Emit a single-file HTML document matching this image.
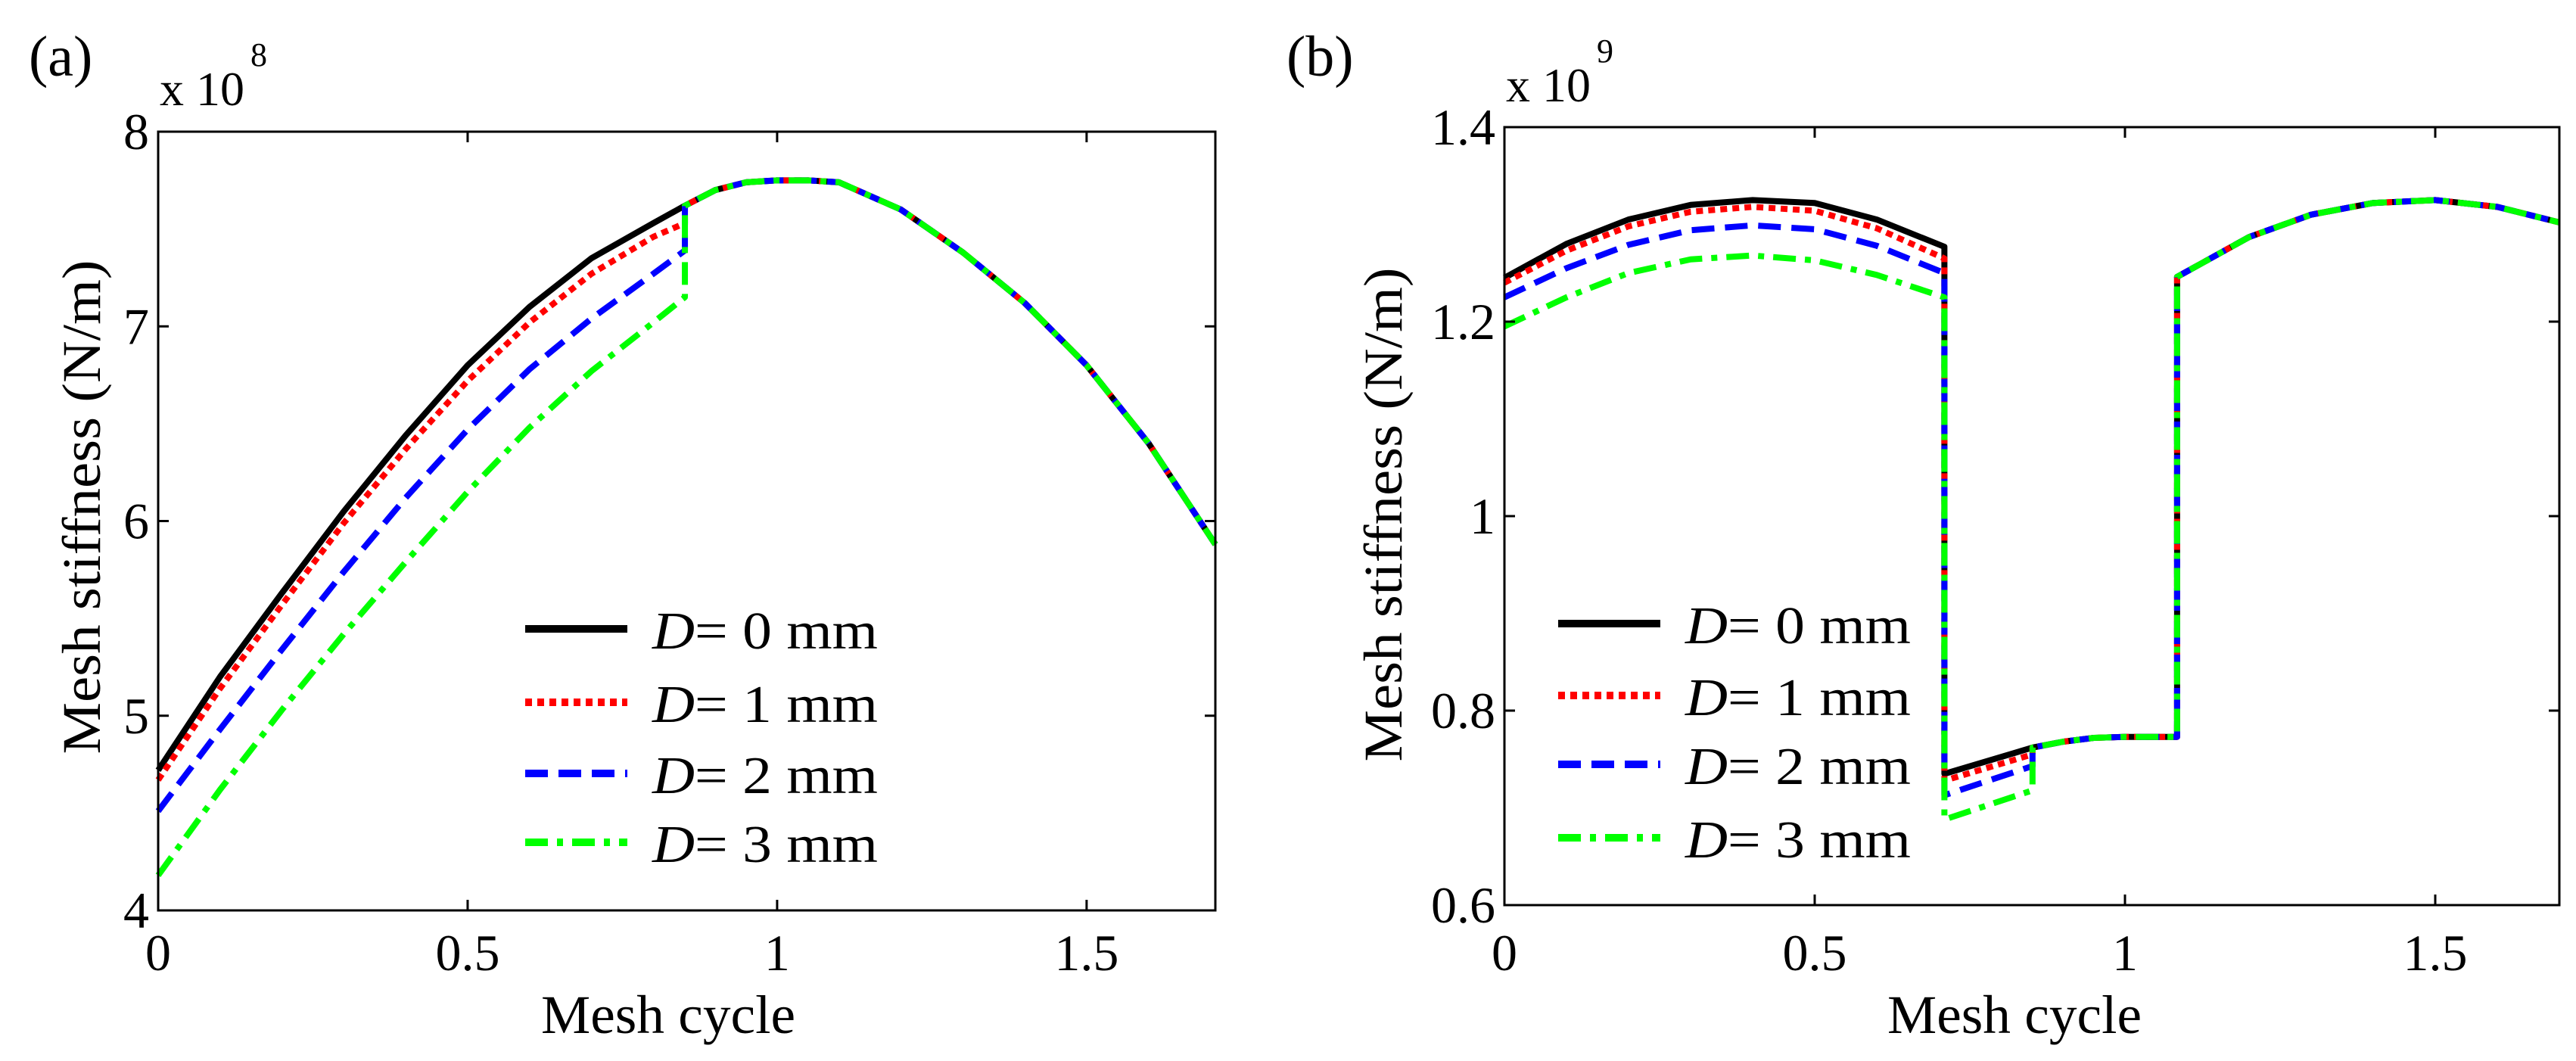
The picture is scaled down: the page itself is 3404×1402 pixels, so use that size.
<!DOCTYPE html>
<html><head><meta charset="utf-8"><style>
html,body{margin:0;padding:0;background:#fff;}
svg{display:block;font-family:"Liberation Serif",serif;}
</style></head><body>
<svg id="fig" width="3404" height="1402" viewBox="0 0 3404 1402" xmlns="http://www.w3.org/2000/svg">
<rect x="0" y="0" width="3404" height="1402" fill="#fff"/>
</svg>
<script>
// ---- Panel (a) data ----
const aRiseX = [0,0.1,0.2,0.3,0.4,0.5,0.6,0.7,0.8,0.851];
const aD0 = [4.72,5.2,5.63,6.05,6.44,6.8,7.1,7.35,7.53,7.62];
const aD1 = [4.67,5.14,5.57,5.99,6.37,6.72,7.02,7.27,7.46,7.53];
const aD2 = [4.51,4.93,5.34,5.74,6.12,6.47,6.78,7.04,7.27,7.39];
const aD3 = [4.18,4.62,5.03,5.42,5.79,6.15,6.48,6.77,7.02,7.15];
const aCommonX = [0.851,0.9,0.95,1.0,1.05,1.1,1.2,1.3,1.4,1.5,1.6,1.708];
const aCommonY = [7.62,7.7,7.74,7.75,7.75,7.74,7.6,7.38,7.12,6.8,6.4,5.88];
const aYTicks = [4,5,6,7,8];
const xTicks = [0,0.5,1,1.5];
const xTickLabels = ["0","0.5","1","1.5"];
// ---- Panel (b) data ----
const bSeg1X = [0,0.1,0.2,0.3,0.4,0.5,0.6,0.709];
const bD0s1 = [1.245,1.28,1.305,1.32,1.325,1.322,1.305,1.277];
const bD1s1 = [1.24,1.273,1.298,1.313,1.318,1.314,1.296,1.265];
const bD2s1 = [1.225,1.255,1.279,1.294,1.299,1.295,1.278,1.25];
const bD3s1 = [1.195,1.225,1.25,1.264,1.268,1.263,1.248,1.225];
const bSeg2X = [0.709,0.851];
const bD0s2 = [0.735,0.762];
const bD1s2 = [0.728,0.755];
const bD2s2 = [0.713,0.743];
const bD3s2 = [0.688,0.718];
const bCommonX = [0.851,0.9,0.95,1.0,1.084,1.084,1.2,1.3,1.4,1.5,1.6,1.7];
const bCommonY = [0.762,0.768,0.772,0.773,0.773,1.246,1.287,1.31,1.322,1.325,1.318,1.302];
const bYTicks = [0.6,0.8,1,1.2,1.4];
const bYTickLabels = ["0.6","0.8","1","1.2","1.4"];
const legendLabels = ["0","1","2","3"];

const NS="http://www.w3.org/2000/svg";
const svg=document.getElementById('fig');
function el(tag,attrs,parent){const e=document.createElementNS(NS,tag);for(const k in attrs)e.setAttribute(k,attrs[k]);(parent||svg).appendChild(e);return e;}
const styles=[
 {stroke:"#000",dash:""},
 {stroke:"#ff0000",dash:"9,7"},
 {stroke:"#0000ff",dash:"30,14"},
 {stroke:"#00ff00",dash:"30,12,8,12"}
];

function panel(cfg){
  const g=el('g',{});
  
  
  const X=v=>cfg.x0+(v-cfg.xmin)/(cfg.xmax-cfg.xmin)*(cfg.x1-cfg.x0);
  const Y=v=>cfg.y1-(v-cfg.ymin)/(cfg.ymax-cfg.ymin)*(cfg.y1-cfg.y0);
  function poly(xs,ys,st,nm){
    const p=el('polyline',{points:xs.map((x,i)=>X(x)+','+Y(ys[i])).join(' '),fill:'none',stroke:st.stroke,'stroke-width':8,'stroke-dasharray':st.dash,'stroke-linejoin':'round'},g);
    
    
  }
  cfg.series.forEach((s,i)=>{
    poly(s.x.concat(cfg.cx),s.y.concat(cfg.cy),styles[i],'series-d'+i);
  });
  const box=el('rect',{x:cfg.x0,y:cfg.y0,width:cfg.x1-cfg.x0,height:cfg.y1-cfg.y0,fill:'none',stroke:'#000','stroke-width':3},g);
  
  
  xTicks.forEach((t,i)=>{
    const x=X(t);
    el('line',{x1:x,y1:cfg.y1,x2:x,y2:cfg.y1-14,stroke:'#000','stroke-width':3},g);
    el('line',{x1:x,y1:cfg.y0,x2:x,y2:cfg.y0+14,stroke:'#000','stroke-width':3},g);
    const tx=el('text',{x:x,y:1282,'font-size':68,'text-anchor':'middle'},g);
    tx.textContent=xTickLabels[i];
    
    
  });
  cfg.yt.forEach((t,i)=>{
    const y=Y(t);
    el('line',{x1:cfg.x0,y1:y,x2:cfg.x0+14,y2:y,stroke:'#000','stroke-width':3},g);
    el('line',{x1:cfg.x1,y1:y,x2:cfg.x1-14,y2:y,stroke:'#000','stroke-width':3},g);
    const tx=el('text',{x:cfg.x0-12,y:y+23,'font-size':68,'text-anchor':'end'},g);
    tx.textContent=cfg.ytl[i];
    
    
  });
  const xl=el('text',{x:cfg.xlx,y:1365,'font-size':72,'text-anchor':'middle',textLength:336,lengthAdjust:'spacingAndGlyphs'},g);
  xl.textContent='Mesh cycle';
  
  
  const yl=el('text',{x:0,y:0,'font-size':72,'text-anchor':'middle',textLength:653,lengthAdjust:'spacingAndGlyphs',transform:`translate(${cfg.ylx},${cfg.yly}) rotate(-90)`},g);
  yl.textContent='Mesh stiffness (N/m)';
  
  
  const pl=el('text',{x:cfg.plx,y:100,'font-size':76},g);
  pl.textContent=cfg.plabel;
  
  
  const ex=el('text',{x:cfg.x0+2,y:cfg.expy,'font-size':64},g);
  ex.textContent='x 10';
  
  
  const ex2=el('text',{x:cfg.x0+122,y:cfg.expy-52,'font-size':44},g);
  ex2.textContent=cfg.exp;
  
  
  cfg.legY.forEach((ly,i)=>{
    const ln=el('line',{x1:cfg.legX,y1:ly,x2:cfg.legX+135,y2:ly,stroke:styles[i].stroke,'stroke-width':10,'stroke-dasharray':styles[i].dash},g);
    
    
    const t=el('text',{x:cfg.legX+168,y:ly+26,'font-size':70,textLength:298,lengthAdjust:'spacingAndGlyphs'},g);
    t.innerHTML='<tspan font-style="italic">D</tspan>= '+legendLabels[i]+' mm';
    
    
  });
}

panel({name:'panel-a',x0:209,x1:1606,y0:174,y1:1203,xmin:0,xmax:1.708,ymin:4,ymax:8,
  series:[{x:aRiseX,y:aD0},{x:aRiseX,y:aD1},{x:aRiseX,y:aD2},{x:aRiseX,y:aD3}],
  cx:aCommonX,cy:aCommonY,yt:aYTicks,ytl:aYTicks.map(String),
  xlx:883,ylx:132,yly:670,plx:38,plabel:'(a)',expy:139,exp:'8',
  legX:694,legY:[831,928,1022,1113]});

panel({name:'panel-b',x0:1988,x1:3382,y0:168,y1:1196,xmin:0,xmax:1.7,ymin:0.6,ymax:1.4,
  series:[{x:bSeg1X.concat(bSeg2X),y:bD0s1.concat(bD0s2)},{x:bSeg1X.concat(bSeg2X),y:bD1s1.concat(bD1s2)},
          {x:bSeg1X.concat(bSeg2X),y:bD2s1.concat(bD2s2)},{x:bSeg1X.concat(bSeg2X),y:bD3s1.concat(bD3s2)}],
  cx:bCommonX,cy:bCommonY,yt:bYTicks,ytl:bYTickLabels,
  xlx:2662,ylx:1852,yly:680,plx:1700,plabel:'(b)',expy:134,exp:'9',
  legX:2059,legY:[824,919,1010,1107]});
</script>
</body></html>
